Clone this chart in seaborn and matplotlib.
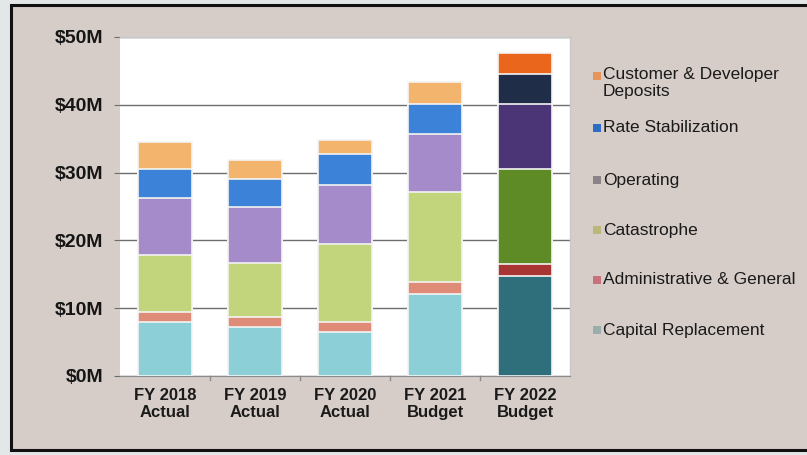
import matplotlib
matplotlib.use("Agg")
import matplotlib.pyplot as plt
import seaborn as sns
import numpy as np
import pandas as pd
from matplotlib.patches import Rectangle

years = ["FY 2018\nActual", "FY 2019\nActual", "FY 2020\nActual", "FY 2021\nBudget", "FY 2022\nBudget"]
series_names = ["Capital Replacement", "Administrative & General", "Catastrophe",
                "Operating", "Rate Stabilization", "Customer & Developer\nDeposits"]
capital = [8.0, 7.3, 6.5, 12.1, 14.7]
admin = [1.5, 1.4, 1.4, 1.8, 1.8]
catastrophe = [8.3, 7.9, 11.5, 13.2, 14.1]
operating = [8.5, 8.3, 8.8, 8.6, 9.5]
rate_stab = [4.2, 4.2, 4.6, 4.4, 4.4]
customer = [4.0, 2.8, 2.0, 3.3, 3.2]
yticks = [0, 10, 20, 30, 40, 50]
ytick_labels = ["$0M", "$10M", "$20M", "$30M", "$40M", "$50M"]

light_colors = ["#8ccfd6", "#de8c78", "#c2d57c", "#a58bc9", "#3b82d8", "#f3b46e"]
dark_colors = ["#2f6f7b", "#a83434", "#5f8b27", "#4b3577", "#1f2d48", "#ea661c"]
legend_colors = ["#9aaeae", "#c8707e", "#b9b879", "#8b8389", "#2d6dc6", "#e6965a"]

series = [capital, admin, catastrophe, operating, rate_stab, customer]

W, H = 807, 455
fig = plt.figure(figsize=(W / 100, H / 100), dpi=100)
fig.patch.set_facecolor("#e4e7e8")
bg = Rectangle((11 / W, 5 / H), 1.2, (450 - 5) / H, transform=fig.transFigure,
               facecolor="#d6cdc9", edgecolor="#111111", linewidth=2.2, zorder=-10)
fig.patches.append(bg)

ax = fig.add_axes([120 / W, (H - 376) / H, 450 / W, (376 - 37) / H])
ax.set_zorder(5)
ax.set_facecolor("white")

cum = np.cumsum(np.array(series), axis=0)
for i in range(len(series) - 1, -1, -1):
    df = pd.DataFrame({"year": years, "value": cum[i]})
    pal = {y: (dark_colors[i] if j == 4 else light_colors[i]) for j, y in enumerate(years)}
    sns.barplot(data=df, x="year", y="value", hue="year", palette=pal, dodge=False,
                width=0.61, saturation=1, legend=False, ax=ax,
                edgecolor="#f4f4f4", linewidth=1.2, zorder=3 + (len(series) - i))

ax.set_xlim(-0.5, 4.5)
ax.set_ylim(0, 50)
ax.set_yticks(yticks)
ax.set_yticklabels(ytick_labels, fontsize=14, fontweight="bold", color="#151515",
                   family="Liberation Sans")
ax.set_xticks(range(len(years)))
ax.set_xticklabels(years, fontsize=12, fontweight="bold", color="#1a1a1a",
                   family="Liberation Sans", linespacing=1.1)
ax.set_xlabel("")
ax.set_ylabel("")
ax.grid(axis="y", color="#6e6e6e", linewidth=1.0, zorder=1)
ax.set_axisbelow(True)
for s in ["top", "right"]:
    ax.spines[s].set_color("#c8c8c8")
    ax.spines[s].set_linewidth(1)
ax.spines["left"].set_visible(False)
ax.spines["bottom"].set_color("#8a8a8a")
ax.tick_params(axis="y", length=4, color="#6e6e6e", pad=8)
ax.tick_params(axis="x", length=0, pad=9)
for xb in [0.5, 1.5, 2.5, 3.5]:
    ax.plot([xb, xb], [0, -0.6], color="#8a8a8a", lw=1, clip_on=False)

# legend (top to bottom order)
leg_y = [76, 128, 180, 230, 280, 330]
order = [5, 4, 3, 2, 1, 0]
for y, idx in zip(leg_y, order):
    fig.patches.append(Rectangle((593 / W, (H - y - 4) / H), 8 / W, 8 / H, transform=fig.transFigure,
                                 facecolor=legend_colors[idx], edgecolor="none", zorder=5))
    if "\n" in series_names[idx]:
        fig.text(603 / W, (H - y + 9) / H, series_names[idx], fontsize=12.5, color="#1a1a1a",
                 family="Liberation Sans", va="top", ha="left", linespacing=1.2)
    else:
        fig.text(603 / W, (H - y) / H, series_names[idx], fontsize=12.5, color="#1a1a1a",
                 family="Liberation Sans", va="center", ha="left")

fig.savefig("out.png", dpi=100, facecolor=fig.get_facecolor())
